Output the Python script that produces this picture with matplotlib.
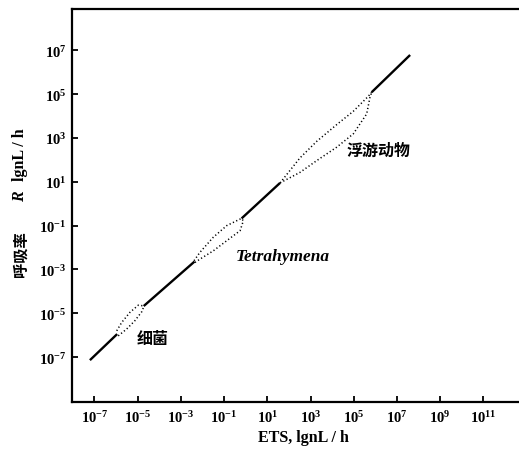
import matplotlib
matplotlib.use('Agg')
import matplotlib.pyplot as plt
import numpy as np

plt.rcParams['mathtext.fontset'] = 'custom'
plt.rcParams['mathtext.rm'] = 'Liberation Serif'
plt.rcParams['mathtext.bf'] = 'Liberation Serif:bold'
plt.rcParams['mathtext.it'] = 'Liberation Serif:italic:bold'

# all values are log10 of the quantity
# solid regression line, broken where the group envelopes sit
seg_x = [[-7.21, -5.95], [-4.72, -2.37], [-0.19, 1.59], [5.83, 7.61]]
seg_y = [[-7.14, -5.95], [-4.67, -2.64], [-0.67, 0.95], [5.09, 6.79]]

# dotted envelopes: bacteria
bac_up_x = [-5.97, -5.74, -5.36, -4.97, -4.74]
bac_up_y = [-5.80, -5.42, -4.96, -4.63, -4.66]
bac_lo_x = [-5.90, -5.51, -5.13, -4.81, -4.71]
bac_lo_y = [-6.03, -5.72, -5.34, -4.93, -4.68]

# Tetrahymena
tet_up_x = [-2.39, -2.12, -1.50, -0.88, -0.26, -0.19]
tet_up_y = [-2.60, -2.22, -1.53, -1.00, -0.70, -0.67]
tet_lo_x = [-2.35, -2.12, -1.50, -0.88, -0.26, -0.11, -0.19]
tet_lo_y = [-2.68, -2.53, -2.15, -1.69, -1.23, -0.78, -0.67]

# zooplankton
zoo_up_x = [1.59, 2.51, 3.29, 4.21, 4.98, 5.67, 5.83]
zoo_up_y = [0.95, 2.09, 2.85, 3.61, 4.22, 4.90, 5.09]
zoo_lo_x = [1.59, 2.51, 3.29, 4.21, 4.98, 5.60, 5.75, 5.83]
zoo_lo_y = [0.95, 1.43, 1.97, 2.58, 3.19, 4.10, 4.85, 5.09]

xtick_exp = [-7, -5, -3, -1, 1, 3, 5, 7, 9, 11]
ytick_exp = [-7, -5, -3, -1, 1, 3, 5, 7]

fig = plt.figure(figsize=(5.19, 4.52), dpi=100)
ax = fig.add_axes([0.1387, 0.1084, 0.8613, 0.8695])

for sx, sy in zip(seg_x, seg_y):
    ax.plot(10.0**np.array(sx), 10.0**np.array(sy), color='k', lw=1.7,
            solid_capstyle='butt')

env = [(bac_up_x, bac_up_y), (bac_lo_x, bac_lo_y),
       (tet_up_x, tet_up_y), (tet_lo_x, tet_lo_y),
       (zoo_up_x, zoo_up_y), (zoo_lo_x, zoo_lo_y)]
for ex, ey in env:
    ax.plot(10.0**np.array(ex), 10.0**np.array(ey), color='k', lw=1.1,
            linestyle=(0, (0.8, 1.6)))

ax.set_xscale('log')
ax.set_yscale('log')
ax.set_xlim(10**-8.04, 10**12.65)
ax.set_ylim(10**-9.05, 10**8.89)

ax.set_xticks([10.0**e for e in xtick_exp],
              [r'$\mathbf{10^{%d}}$' % e for e in xtick_exp])
ax.set_yticks([10.0**e for e in ytick_exp],
              [r'$\mathbf{10^{%d}}$' % e for e in ytick_exp])
ax.minorticks_off()
ax.tick_params(direction='in', length=4, width=1.3, labelsize=10.5)
ax.tick_params(axis='x', pad=5)
ax.tick_params(axis='y', pad=4)

ax.spines['right'].set_visible(False)
for s in ['top', 'left', 'bottom']:
    ax.spines[s].set_linewidth(1.6)

ax.set_xlabel('ETS, lgnL / h', family=['Liberation Serif'], fontweight='bold',
              fontsize=11.5)
ax.xaxis.set_label_coords(0.518, -0.068)

# y label in three pieces (Chinese, italic R, unit)
ax.text(-0.116, 0.379, '呼吸率', transform=ax.transAxes, rotation=90,
        family=['Noto Sans CJK SC'], fontweight='bold', fontsize=11,
        ha='center', va='center')
ax.text(-0.116, 0.524, 'R', transform=ax.transAxes, rotation=90,
        family=['Liberation Serif'], style='italic', fontweight='bold',
        fontsize=11.5, ha='center', va='center')
ax.text(-0.116, 0.631, 'lgnL / h', transform=ax.transAxes, rotation=90,
        family=['Liberation Serif'], fontweight='bold', fontsize=11.5,
        ha='center', va='center')

ax.text(10**-4.3, 10**-6.15, '细菌', family=['Noto Sans CJK SC'],
        fontweight='bold', fontsize=11.5, ha='center', va='center')
ax.text(10**1.73, 10**-2.39, 'Tetrahymena', family=['Liberation Serif'],
        style='italic', fontweight='bold', fontsize=12.5, ha='center', va='center')
ax.text(10**6.17, 10**2.45, '浮游动物', family=['Noto Sans CJK SC'],
        fontweight='bold', fontsize=11.5, ha='center', va='center')

fig.savefig('out.png', dpi=100)
